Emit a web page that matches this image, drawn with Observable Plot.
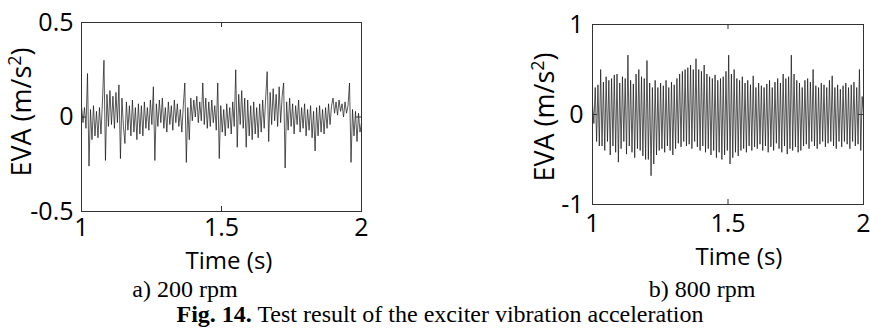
<!DOCTYPE html>
<html>
<head>
<meta charset="utf-8">
<script src="https://cdn.jsdelivr.net/npm/d3@7"></script>
<script src="https://cdn.jsdelivr.net/npm/@observablehq/plot@0.6"></script>
<style>
  html, body { margin: 0; padding: 0; background: #fff; }
  #wrap { position: relative; width: 870px; height: 328px; overflow: hidden; background: #fff; }
  .panel { position: absolute; top: 0; }
  #overlay { position: absolute; left: 0; top: 0; }
</style>
</head>
<body>
<div id="wrap">
  <div id="left" class="panel" style="left:0px"></div>
  <div id="right" class="panel" style="left:511px"></div>
  <svg id="overlay" width="870" height="328"></svg>
</div>
<script>
// ---- Data ----
const xTicks = [1, 1.5, 2];
const leftYTicks = [-0.5, 0, 0.5];
const rightYTicks = [-1, 0, 1];

// a) 200 rpm : EVA samples over 1..2 s
const leftValues = [
  0.06, -0.03, 0.05, -0.06, 0.23, -0.26, 0.04, -0.12, 0.06, -0.1,
  0.03, -0.11, 0.05, -0.09, 0.08, 0.30, -0.23, 0.12, -0.05, 0.14,
  -0.04, 0.11, -0.06, 0.13, -0.03, 0.17, -0.22, 0.1, -0.05, -0.14,
  0.08, -0.07, 0.06, -0.1, 0.09, -0.08, 0.05, -0.12, 0.07, -0.09,
  0.06, -0.1, 0.08, -0.06, 0.05, -0.07, 0.09, -0.04, 0.16, -0.23,
  0.07, -0.05, 0.09, -0.03, 0.1, -0.06, 0.05, -0.08, 0.08, -0.04,
  0.06, -0.07, 0.09, -0.03, 0.07, -0.05, 0.04, -0.08, 0.06, 0.18,
  -0.24, 0.05, -0.12, 0.1, -0.02, 0.09, 0.0, 0.11, -0.03, 0.08,
  -0.02, 0.18, -0.04, 0.1, -0.06, 0.08, -0.05, 0.09, -0.03, 0.06,
  -0.07, 0.18, -0.22, 0.06, -0.08, 0.04, -0.1, 0.07, -0.06, 0.05,
  -0.09, 0.08, -0.05, 0.25, -0.16, 0.12, -0.04, 0.14, -0.06, 0.1,
  -0.16, 0.09, -0.1, 0.06, -0.12, 0.08, -0.09, 0.05, -0.11, 0.07,
  -0.08, 0.09, -0.06, 0.1, 0.24, -0.13, 0.13, -0.04, 0.15, -0.02,
  0.12, -0.05, 0.16, -0.03, 0.11, 0.18, -0.27, 0.08, -0.07, 0.1,
  -0.05, 0.07, -0.09, 0.06, -0.04, 0.09, -0.08, 0.05, -0.06, 0.07,
  -0.1, 0.04, -0.07, 0.06, -0.11, 0.03, -0.18, 0.05, -0.1, 0.06,
  -0.08, 0.04, -0.09, 0.05, -0.06, 0.07, -0.04, 0.06, 0.1, 0.02,
  0.08, 0.01, 0.09, 0.03, 0.07, 0.0, 0.08, 0.02, 0.06, 0.18,
  -0.24, 0.04, -0.1, 0.03, -0.13, 0.02, -0.08, -0.03
];

// b) 800 rpm : EVA samples over 1..2 s
const rightValues = [
  0.12, -0.1, 0.3, -0.3, 0.33, -0.35, 0.5, -0.35, 0.36, -0.4,
  0.42, -0.3, 0.38, -0.45, 0.4, -0.35, 0.44, -0.42, 0.45, -0.53,
  0.35, -0.38, 0.42, -0.3, 0.4, -0.44, 0.66, -0.35, 0.38, -0.42,
  0.34, -0.48, 0.45, -0.38, 0.5, -0.4, 0.42, -0.46, 0.4, -0.5,
  0.6, -0.5, 0.35, -0.68, 0.3, -0.55, 0.38, -0.45, 0.3, -0.4,
  0.35, -0.38, 0.32, -0.42, 0.38, -0.35, 0.3, -0.4, 0.36, -0.45,
  0.33, -0.38, 0.4, -0.32, 0.45, -0.36, 0.48, -0.3, 0.5, -0.35,
  0.52, -0.33, 0.55, -0.38, 0.5, -0.3, 0.62, -0.36, 0.5, -0.4,
  0.48, -0.35, 0.55, -0.42, 0.45, -0.38, 0.42, -0.45, 0.4, -0.4,
  0.44, -0.48, 0.38, -0.42, 0.4, -0.5, 0.42, -0.45, 0.48, -0.4,
  0.66, -0.55, 0.45, -0.48, 0.5, -0.42, 0.4, -0.46, 0.38, -0.4,
  0.42, -0.38, 0.35, -0.42, 0.38, -0.35, 0.33, -0.4, 0.43, -0.36,
  0.3, -0.38, 0.35, -0.33, 0.32, -0.4, 0.3, -0.35, 0.34, -0.42,
  0.38, -0.36, 0.3, -0.4, 0.36, -0.32, 0.4, -0.38, 0.35, -0.42,
  0.45, -0.35, 0.4, -0.44, 0.42, -0.38, 0.66, -0.4, 0.45, -0.36,
  0.38, -0.42, 0.35, -0.4, 0.3, -0.35, 0.38, -0.33, 0.4, -0.38,
  0.36, -0.3, 0.5, -0.35, 0.32, -0.38, 0.3, -0.33, 0.35, -0.3,
  0.33, -0.36, 0.3, -0.32, 0.38, -0.3, 0.43, -0.35, 0.3, -0.38,
  0.33, -0.3, 0.28, -0.36, 0.32, -0.3, 0.35, -0.33, 0.3, -0.38,
  0.33, -0.3, 0.36, -0.35, 0.3, -0.33, 0.5, -0.4, 0.2, 0.0
];

// ---- Drawing ----
const fmt = d => String(d);
function panel(values, yDomain, yTicks, width, height, ml, mr, mt, mb, xPad, yPad) {
  const pw = width - ml - mr, ph = height - mt - mb;
  const data = values.map((v, i) => ({t: 1 + i / (values.length - 1), v}));
  return Plot.plot({
    width, height,
    marginLeft: ml, marginRight: mr, marginTop: mt, marginBottom: mb,
    style: {fontFamily: "'Open Sans', sans-serif", fontSize: "25px", color: "#000", background: "transparent", overflow: "visible"},
    x: {domain: [1, 2]},
    y: {domain: yDomain},
    marks: [
      Plot.lineY(data, {x: "t", y: "v", stroke: "#111", strokeWidth: 0.7}),
      Plot.tickX(xTicks, {x: d => d, insetTop: ph - 5, stroke: "#333"}),
      Plot.tickX(xTicks, {x: d => d, insetBottom: ph - 5, stroke: "#333"}),
      Plot.tickY(yTicks, {y: d => d, insetRight: pw - 5, stroke: "#333"}),
      Plot.tickY(yTicks, {y: d => d, insetLeft: pw - 5, stroke: "#333"}),
      Plot.frame({stroke: "#333", strokeWidth: 1}),
      Plot.axisX({ticks: xTicks, anchor: "bottom", tickSize: 0, tickPadding: xPad, label: null, tickFormat: fmt, fontSize: 25, fill: "#000"}),
      Plot.axisY({ticks: yTicks, anchor: "left", tickSize: 0, tickPadding: yPad, label: null, tickFormat: fmt, fontSize: 25, fill: "#000"})
    ]
  });
}

document.getElementById("left").append(
  panel(leftValues, [-0.5, 0.5], leftYTicks, 400, 250, 81, 39, 22, 39, 7, 8)
);
document.getElementById("right").append(
  panel(rightValues, [-1, 1], rightYTicks, 359, 240, 81, 7, 24, 36, 10, 9)
);

// ---- Titles / captions ----
const ov = d3.select("#overlay");
const sans = "'Open Sans', sans-serif";
const serif = "'Liberation Serif', 'Times New Roman', serif";

function xTitle(x, y) {
  ov.append("text").attr("x", x).attr("y", y).attr("text-anchor", "middle")
    .attr("font-family", sans).attr("font-size", 24).attr("fill", "#000").text("Time (s)");
}
function yTitle(x, y) {
  const t = ov.append("text").attr("transform", `translate(${x},${y}) rotate(-90)`)
    .attr("text-anchor", "middle").attr("font-family", sans).attr("font-size", 27).attr("fill", "#000");
  t.append("tspan").text("EVA (m/s");
  t.append("tspan").attr("font-size", 18).attr("dy", -10).text("2");
  t.append("tspan").attr("dy", 10).text(")");
}
xTitle(229, 269);
xTitle(739, 265);
yTitle(31, 112);
yTitle(554, 117);

ov.append("text").attr("x", 185).attr("y", 297).attr("text-anchor", "middle")
  .attr("font-family", serif).attr("font-size", 24).attr("fill", "#000").text("a) 200 rpm");
ov.append("text").attr("x", 702).attr("y", 297).attr("text-anchor", "middle")
  .attr("font-family", serif).attr("font-size", 24).attr("fill", "#000").text("b) 800 rpm");

const cap = ov.append("text").attr("x", 440).attr("y", 322).attr("text-anchor", "middle")
  .attr("font-family", serif).attr("font-size", 24).attr("fill", "#000");
cap.append("tspan").attr("font-weight", "bold").text("Fig. 14.");
cap.append("tspan").text(" Test result of the exciter vibration acceleration");
</script>
</body>
</html>
